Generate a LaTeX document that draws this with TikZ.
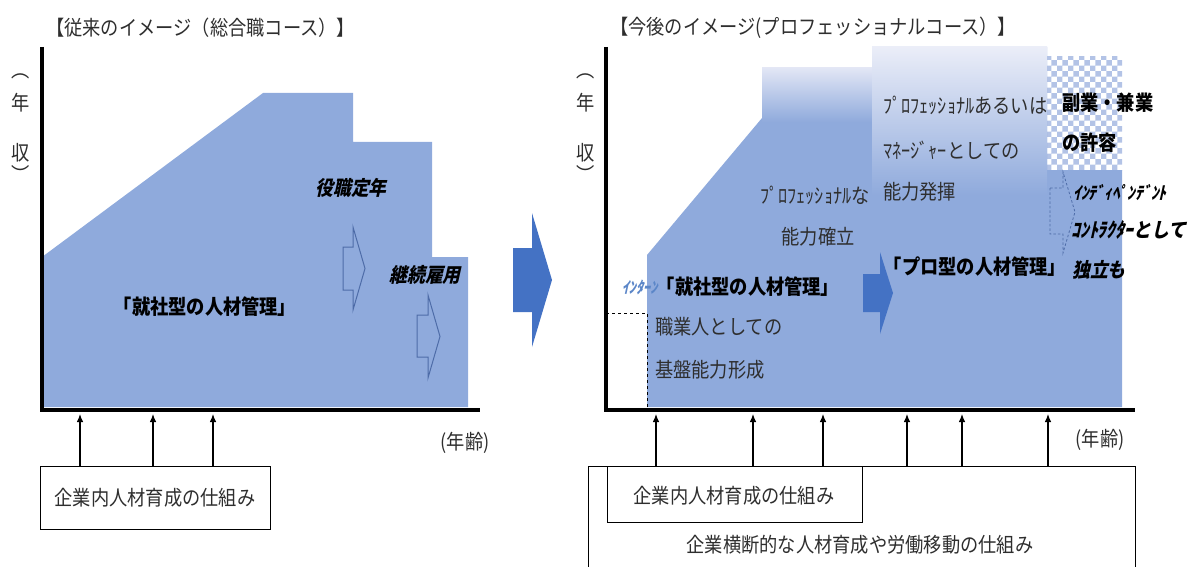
\documentclass[tikz,border=0pt]{standalone}
\usepackage{fontspec}
\setmainfont{Noto Sans CJK JP}[FakeStretch=0.89]
\newfontfamily\jpit{Noto Sans CJK JP}[FakeStretch=0.89,FakeSlant=0.22,BoldFeatures={FakeSlant=0.22,FakeStretch=0.89}]
\usetikzlibrary{patterns,arrows.meta}
\definecolor{fillblue}{HTML}{8FAADC}
\definecolor{lightc}{HTML}{E2E6F5}
\definecolor{arrowblue}{HTML}{4472C4}
\definecolor{outl}{HTML}{4E6CA8}
\definecolor{txtc}{HTML}{2E2E2E}
\definecolor{internc}{HTML}{5B86C8}
\definecolor{checkc}{HTML}{B3C3E6}
\tikzset{
  txt/.style={inner sep=0pt, text=txtc, font=\fontsize{20.5}{22}\selectfont},
  bld/.style={inner sep=0pt, text=black, font=\fontsize{20.5}{22}\selectfont\bfseries},
  bit/.style={inner sep=0pt, text=black, font=\fontsize{20}{22}\selectfont\jpit\bfseries},
  axis/.style={line width=3.6pt, black},
  uparr/.style={line width=1.1pt, -{Latex[length=8pt,width=6.5pt]}},
  hollow/.style={draw=outl, line width=1pt, line join=miter},
  dhollow/.style={draw=outl, line width=0.8pt, dashed, dash pattern=on 2.5pt off 2pt},
  boxst/.style={draw=black, line width=0.9pt, inner sep=0pt}
}
\begin{document}
\begin{tikzpicture}[x=1pt,y=-1pt]
\useasboundingbox (0,0) rectangle (1191,567);

% ---------------- left panel ----------------
\node[txt, anchor=west] (title1) at (46,28) {【従来のイメージ（総合職コース）】};
\fill[fillblue] (42,257) -- (263,93) -- (353,93) -- (353,142) -- (432,142) -- (432,257) -- (468,257) -- (468,407) -- (42,407) -- cycle;
\draw[axis] (42,47) -- (42,410) -- (480,410);
\node[txt] (yl1a) at (21,76) {︵};
\node[txt] (yl1b) at (21,103) {年};
\node[txt] (yl1c) at (21,153) {収};
\node[txt] (yl1d) at (21,174) {︶};

\node[bit] (yaku) at (351,188) {役職定年};
\node[bit] (keizoku) at (425,275) {継続雇用};
\node[bld] (shusha1) at (205,307) {「就社型の人材管理」};
\draw[hollow] (343,247) -- (353,247) -- (353,227) -- (365,268.5) -- (353,310) -- (353,290) -- (343,290) -- cycle;
\draw[hollow] (417,315) -- (428,315) -- (428,295) -- (440,336.5) -- (428,378) -- (428,357) -- (417,357) -- cycle;

\node[txt] (age1) at (465,443) {(年齢)};
\node[boxst, minimum width=230pt, minimum height=63pt] (box1) at (155,497.5) {};
\node[txt] (box1t) at (155,498) {企業内人材育成の仕組み};
\coordinate (l1) at (80,414);
\coordinate (l2) at (153,414);
\coordinate (l3) at (213,414);
\foreach \c in {l1,l2,l3} \draw[uparr] (box1.north -| \c) -- (\c);

% ---------------- middle arrow ----------------
\fill[arrowblue] (513,248) -- (532,248) -- (532,213) -- (552,280) -- (532,347) -- (532,312) -- (513,312) -- cycle;

% ---------------- right panel ----------------
\node[txt, anchor=west] (title2) at (610,28) {【今後のイメージ(プロフェッショナルコース）】};
\fill[white, pattern=checkerboard, pattern color=checkc] (1047,57) rectangle (1122,170);
\fill[fillblue] (647,407) -- (647,255) -- (762,118) -- (762,68) -- (872,68) -- (872,47) -- (1047,47) -- (1047,170) -- (1122,170) -- (1122,407) -- cycle;
\shade[top color=lightc, bottom color=fillblue] (762,68) rectangle (872,122);
\shade[top color=lightc!70!white, bottom color=fillblue] (872,47) rectangle (1047,195);
\draw[black, line width=0.9pt, dashed] (606,313) -- (647,313) -- (647,408);
\draw[axis] (606,47) -- (606,410) -- (1135,410);
\node[txt] (yl2a) at (586,76) {︵};
\node[txt] (yl2b) at (586,103) {年};
\node[txt] (yl2c) at (586,153) {収};
\node[txt] (yl2d) at (586,174) {︶};

\node[bld] (shusha2) at (748,287) {「就社型の人材管理」};
\node[inner sep=0pt, anchor=east, text=internc, font=\fontsize{16}{18}\selectfont\jpit\bfseries] (intern) at ([xshift=1pt]shusha2.west) {ｲﾝﾀｰﾝ};
\node[txt, anchor=west] (shoku) at (655,327) {職業人としての};
\node[txt, anchor=west] (kiban) at (655,370) {基盤能力形成};
\node[txt, anchor=west] (profna) at (760,195) {ﾌﾟﾛﾌｪｯｼｮﾅﾙな};
\node[txt] (kakuritsu) at (818,237) {能力確立};
\node[txt, anchor=west] (prof2) at (883,105) {ﾌﾟﾛﾌｪｯｼｮﾅﾙあるいは};
\node[txt, anchor=west] (manager) at (883,150) {ﾏﾈｰｼﾞｬｰとしての};
\node[txt, anchor=west] (hakki) at (883,192) {能力発揮};
\node[bld] (progata) at (975,267) {「プロ型の人材管理」};
\fill[arrowblue] (863,274) -- (880,274) -- (880,252) -- (893,293) -- (880,334) -- (880,312) -- (863,312) -- cycle;
\node[bld, anchor=west] (fuku) at (1062,103) {副業・兼業};
\node[bld, anchor=west] (kyoyo) at (1062,143) {の許容};
\draw[dhollow] (1050,188) -- (1063,188) -- (1063,172) -- (1075,212) -- (1063,253) -- (1063,234) -- (1050,234) -- cycle;
\node[bit, anchor=west, font=\fontsize{17.5}{20}\selectfont\jpit\bfseries] (indep) at (1073,193) {ｲﾝﾃﾞｨﾍﾟﾝﾃﾞﾝﾄ};
\node[bit, anchor=west] (contr) at (1071,230) {ｺﾝﾄﾗｸﾀｰとして};
\node[bit, anchor=west] (dokuritsu) at (1072,270) {独立も};

\node[txt] (age2) at (1100,440) {(年齢)};
\draw[black, line width=0.9pt] (588,580) -- (588,466) -- (1135,466) -- (1135,580);
\coordinate (outertop) at (860,466);
\node[boxst, minimum width=255pt, minimum height=56pt] (box2) at (734.5,494) {};
\node[txt] (box2t) at (734,496) {企業内人材育成の仕組み};
\node[txt] (cross) at (860,545) {企業横断的な人材育成や労働移動の仕組み};
\foreach \x/\n in {656/r1,753/r2,823/r3,907/r4,962/r5,1048/r6} {
  \coordinate (\n) at (\x,414);
  \draw[uparr] (outertop -| \n) -- (\n);
}
\end{tikzpicture}
\end{document}
